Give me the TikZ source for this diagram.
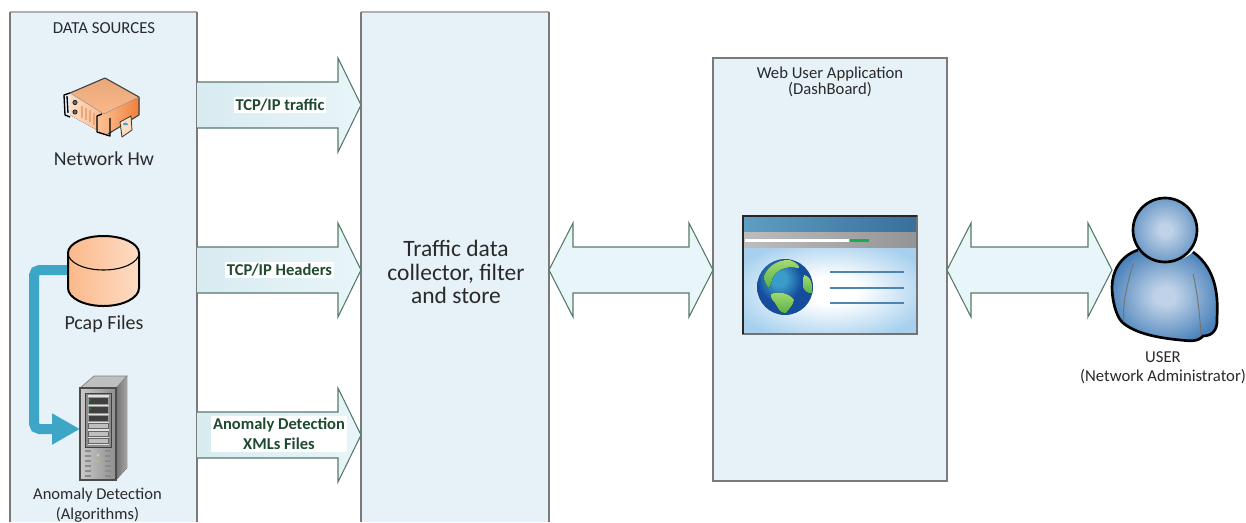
\documentclass[tikz,border=0pt]{standalone}
\usepackage{fontspec}
\setmainfont{Carlito}
\usetikzlibrary{arrows.meta,calc}
\definecolor{panelfill}{HTML}{E6F2F8}
\definecolor{panelline}{HTML}{7A7A7A}
\definecolor{arrline}{HTML}{557A6A}
\definecolor{arrL}{HTML}{D8EBF1}
\definecolor{arrR}{HTML}{E8F5F9}
\definecolor{labelgreen}{HTML}{1E4A30}
\definecolor{txt}{HTML}{2A2A2A}
\definecolor{teal}{HTML}{3DA6C6}
\definecolor{orA}{HTML}{FBB98A}
\definecolor{orB}{HTML}{FDDCC4}
\definecolor{orC}{HTML}{F07F3A}
\definecolor{orD}{HTML}{E8A77A}
\definecolor{titleA}{HTML}{5F9DC4}
\definecolor{titleB}{HTML}{386F9B}
\definecolor{barA}{HTML}{BDBDBD}
\definecolor{barB}{HTML}{949494}
\definecolor{sky}{HTML}{A6D0EE}
\definecolor{webline}{HTML}{4F84AE}
\definecolor{seaA}{HTML}{3A9CC8}
\definecolor{seaB}{HTML}{154C9C}
\definecolor{landA}{HTML}{A5DC72}
\definecolor{landB}{HTML}{56B04A}
\definecolor{userA}{HTML}{BFD2E8}
\definecolor{userB}{HTML}{4A82BA}
\definecolor{srvA}{HTML}{C9C9C9}
\definecolor{srvB}{HTML}{8E8E8E}
\definecolor{okgreen}{HTML}{12B04C}
\pgfdeclareradialshading{softuser}{\pgfpoint{0bp}{0bp}}{color(0bp)=(userA); color(5bp)=(userA); color(27bp)=(userB); color(100bp)=(userB)}
\pgfdeclareradialshading{softhead}{\pgfpoint{0bp}{0bp}}{color(0bp)=(userA); color(5bp)=(userA); color(27bp)=(userB!85); color(100bp)=(userB!85)}
\pgfdeclareradialshading{softsky}{\pgfpoint{0bp}{0bp}}{color(0bp)=(white); color(8bp)=(white); color(30bp)=(sky); color(100bp)=(sky)}
\pgfdeclareradialshading{softsea}{\pgfpoint{-6bp}{8bp}}{color(0bp)=(seaA); color(7bp)=(seaA); color(20bp)=(seaB); color(100bp)=(seaB)}
\tikzset{
  panel/.style={fill=panelfill,inner sep=0pt,outer sep=0pt},
  paneledge/.style={draw=panelline,line width=1.1pt},
  paneltop/.style={draw=panelline!60,line width=.8pt},
  flow/.style={draw=arrline,line width=.8pt,left color=arrL,right color=arrR},
  both/.style={draw=arrline,line width=.8pt,fill=arrR},
  flowlabel/.style={fill=white,inner sep=1.5pt,text=labelgreen,font=\fontsize{12.4pt}{15pt}\selectfont\bfseries,align=center},
  caption/.style={text=txt,align=center,inner sep=0pt},
  anchorbox/.style={inner sep=0pt,outer sep=0pt},
  ink/.style={draw=black,line width=1.5pt,line join=round},
  personink/.style={draw=black,line width=2pt,line join=round},
  webrule/.style={draw=webline,line width=1.5pt},
  land/.style={top color=landA,bottom color=landB},
  drive/.style={fill=black!75,draw=black!40,line width=.3pt},
  bay/.style={fill=black!25,draw=black!60,line width=.4pt},
  vent/.style={draw=black!45,line width=.8pt},
  fold/.style={draw=black!55,line width=.7pt},
  pipe/.style={draw=teal,line width=7.5pt,rounded corners=4pt},
}
\newcommand{\flowarrow}[2]{%
  \draw[flow] ($(#1)+(0,-23)$) -- ($(#2)+(-23,-23)$) -- ($(#2)+(-23,-47)$) -- (#2)
    -- ($(#2)+(-23,47)$) -- ($(#2)+(-23,23)$) -- ($(#1)+(0,23)$);}
\newcommand{\twoway}[2]{%
  \draw[both] (#1) -- ($(#1)+(24,-47)$) -- ($(#1)+(24,-23)$) -- ($(#2)+(-24,-23)$) -- ($(#2)+(-24,-47)$) -- (#2)
    -- ($(#2)+(-24,47)$) -- ($(#2)+(-24,23)$) -- ($(#1)+(24,23)$) -- ($(#1)+(24,47)$) -- cycle;}
\begin{document}
\begin{tikzpicture}[x=0.75pt,y=-0.75pt]
\useasboundingbox (0,0) rectangle (1246,522);
\fill[white] (0,0) rectangle (1246,522);

% panels
\node[panel,minimum width=140.25pt,minimum height=382.5pt] (src) at (103.5,267) {};
\node[panel,minimum width=141pt,minimum height=382.5pt] (col) at (455,267) {};
\node[panel,draw=panelline,line width=1.1pt,minimum width=175.5pt,minimum height=317.25pt] (web) at (830,269.5) {};
\draw[paneltop] (src.north west) -- (src.north east);
\draw[paneltop] (col.north west) -- (col.north east);
\draw[paneledge] (src.south west) -- (src.north west);
\draw[paneledge] (src.south east) -- (src.north east);
\draw[paneledge] (col.south west) -- (col.north west);
\draw[paneledge] (col.south east) -- (col.north east);

% block arrows
\coordinate (a1s) at (src.east|-0,105); \coordinate (a1e) at (col.west|-0,105);
\coordinate (a2s) at (src.east|-0,270); \coordinate (a2e) at (col.west|-0,270);
\coordinate (a3s) at (src.east|-0,435); \coordinate (a3e) at (col.west|-0,435);
\flowarrow{a1s}{a1e}
\flowarrow{a2s}{a2e}
\flowarrow{a3s}{a3e}
\coordinate (b1s) at (col.east|-0,270); \coordinate (b1e) at (web.west|-0,270);
\coordinate (b2s) at (web.east|-0,270); \coordinate (b2e) at (1112,270);
\twoway{b1s}{b1e}
\twoway{b2s}{b2e}

\node[flowlabel] (l1) at (280,105) {TCP/IP traffic};
\node[flowlabel] (l2) at (279.5,270) {TCP/IP Headers};
\node[flowlabel] (l3) at (279,434) {Anomaly Detection\\XMLs Files};

% captions
\node[caption,font=\fontsize{12.6pt}{15pt}\selectfont] (tsrc) at (104,28) {DATA SOURCES};
\node[caption,font=\fontsize{14.8pt}{17pt}\selectfont] (thw) at (104,159) {Network Hw};
\node[caption,font=\fontsize{15pt}{17pt}\selectfont] (tpcap) at (104,324) {Pcap Files};
\node[caption,font=\fontsize{12.4pt}{15pt}\selectfont] (tano) at (97.5,505) {Anomaly Detection\\(Algorithms)};
\node[caption,font=\fontsize{17.6pt}{17.7pt}\selectfont] (tcol) at (456,272) {Traffic data\\collector, filter\\and store};
\node[caption,font=\fontsize{12.5pt}{12pt}\selectfont] (tweb) at (830,82) {Web User Application\\(DashBoard)};
\node[caption,font=\fontsize{12.5pt}{14.5pt}\selectfont] (tuser) at (1163,367.5) {USER\\(Network Administrator)};

% anchors for the two icons that the teal connector joins
\node[anchorbox,minimum width=54pt,minimum height=52.5pt] (pcap) at (104,271) {};
\node[anchorbox,minimum width=27pt,minimum height=69pt] (srv) at (98,434) {};
\coordinate (bendtop) at (34,270);
\coordinate (bendbot) at (34,429);
\draw[pipe,-{Triangle[length=21pt,width=22pt]}] (pcap.west|-bendtop) -- (bendtop) -- (bendbot) -- (srv.west|-bendbot);

% network hardware
\begin{scope}[line join=round]
  \fill[top color=orD,bottom color=orA] (105,78) -- (139,97) -- (104,114) -- (70,93) -- cycle;
  \fill[left color=orB,right color=orA] (70,93) -- (104,114) -- (104,134) -- (70,115) -- cycle;
  \fill[left color=orA,right color=orC] (104,114) -- (139,97) -- (139,115) -- (108,134) -- (104,134) -- cycle;
  \draw[draw=black!75,line width=.8pt] (70,93) -- (105,78) -- (139,97) -- (139,115) -- (108,134);
  \draw[draw=black!35,line width=.4pt] (70,93) -- (104,114) -- (139,97);
  \foreach \xx/\yy in {82/106,86/108,90/110,94/113}{\draw[draw=orD,line width=.8pt] (\xx,\yy) -- (\xx,\yy+12);}
  \fill[black!60,draw=black] (75,102.5) circle[radius=2.2] (75,112) circle[radius=2.2];
  \draw[black,line width=1pt] (70,93) -- (64,95) -- (65,115) -- (70,117);
  \draw[black,line width=1pt] (67,96) -- (68,113);
  \draw[black,line width=1pt] (102,114) -- (97,116) -- (97,132) -- (110,136) -- (110,118) ;
  \draw[black!80,fill=orB,line width=.6pt] (120,122) -- (131,116) -- (132,130) -- (122,137) -- cycle;
  \fill[teal] (123,125) arc[start angle=180,end angle=360,radius=2.5] -- cycle;
\end{scope}

% pcap cylinder
\path[left color=orA,right color=orB] (68,253) arc[start angle=180,end angle=360,x radius=35.5,y radius=17]
  -- (139,288) arc[start angle=0,end angle=180,x radius=35.5,y radius=18] -- cycle;
\draw[ink] (68,253) arc[start angle=180,end angle=360,x radius=35.5,y radius=17]
  -- (139,288) arc[start angle=0,end angle=180,x radius=35.5,y radius=18] -- cycle;
\draw[draw=black,line width=.8pt] (68,253) arc[start angle=180,end angle=0,x radius=35.5,y radius=17];

% server
\fill[left color=black!55,right color=black!35] (116,388) -- (127,376) -- (127,468) -- (116,480) -- cycle;
\filldraw[fill=black!25,draw=black!50,line width=.5pt] (80,388) -- (94,376) -- (127,376) -- (116,388) -- cycle;
\fill[left color=srvA,right color=srvB] (80,388) rectangle (116,480);
\draw[draw=black!70,line width=.8pt] (80,388) rectangle (116,480);
\draw[fill=black!45,draw=black!75,line width=.6pt] (85,393) rectangle (111.5,447);
\fill[black!12] (87.5,395) rectangle (109,445);
\draw[drive] (88,397) rectangle (108,404);
\draw[drive] (88,406) rectangle (108,413);
\draw[drive] (88,415) rectangle (108,421);
\draw[bay] (88,423) rectangle (108,428);
\draw[bay] (88,431) rectangle (108,436);
\draw[bay] (88,438.5) rectangle (108,443.5);
\fill[green!70!black] (90,400) circle[radius=.8] (90,409) circle[radius=.8];
\foreach \yy in {451,456,461,466,471,476}{
  \draw[vent] (85,\yy) -- (91,\yy);
  \draw[vent] (105,\yy) -- (111,\yy);
}
\fill[yellow!80!black] (98,461) circle[radius=.9];
\fill[black!20] (98,455) circle[radius=1.5];

% browser window
\node[anchorbox,minimum width=130.5pt,minimum height=88.5pt] (win) at (830,275) {};
\fill[sky] (win.north west) rectangle (win.south east);
\path[shading=softsky] (743,247) rectangle (917,334);
\fill[left color=titleA,right color=titleB] (win.north west) rectangle (917,232);
\fill[left color=barA,right color=barB] (743,232) rectangle (917,247);
\fill[white] (745,238.8) rectangle (849,241.5);
\fill[okgreen] (850,238.8) rectangle (869,241.5);
\draw[draw=black!55,line width=1.1pt] (win.north west) rectangle (win.south east);
\draw[draw=black!85,line width=.9pt] (743,334) -- (743,216) -- (917,216);
\draw[webrule] (830,272) -- (904,272);
\draw[webrule] (830,288) -- (904,288);
\draw[webrule] (830,303) -- (904,303);
% globe
\path[shading=softsea] (785,287) circle[radius=28];
\fill[land] (764,276) .. controls (768,265) and (780,259) .. (790,260) .. controls (795,262) and (800,265) .. (799,268)
  .. controls (794,268) and (790,266) .. (786,268) .. controls (780,269) and (776,272) .. (773,277)
  .. controls (772,281) and (771,284) .. (769,288) .. controls (766,286) and (764,281) .. (764,276) -- cycle;
\fill[land] (771,294) .. controls (778,291) and (790,293) .. (794,300) .. controls (793,306) and (788,310) .. (786,313) .. controls (780,314) and (778,308) .. (775,303) .. controls (772,300) and (770,297) .. (771,294) -- cycle;
\fill[land] (804,275) .. controls (811,276) and (813,285) .. (812,293) .. controls (808,294) and (804,291) .. (803,287) .. controls (803,283) and (803,280) .. (804,275) -- cycle;

% user
\path[shading=softuser] (1138,250) .. controls (1120,256) and (1112,272) .. (1112,287)
  .. controls (1112,300) and (1116,316) .. (1122,322) .. controls (1135,334) and (1160,338) .. (1180,340)
  .. controls (1190,341) and (1198,342) .. (1203,336) .. controls (1212,336) and (1218,330) .. (1217,318)
  .. controls (1218,300) and (1218,270) .. (1193,252) .. controls (1180,265) and (1150,265) .. (1138,250) -- cycle;
\draw[personink] (1138,250) .. controls (1120,256) and (1112,272) .. (1112,287)
  .. controls (1112,300) and (1116,316) .. (1122,322) .. controls (1135,334) and (1160,338) .. (1180,340)
  .. controls (1190,341) and (1198,342) .. (1203,336) .. controls (1212,336) and (1218,330) .. (1217,318)
  .. controls (1218,300) and (1218,270) .. (1193,252);
\draw[fold] (1133,264) .. controls (1127,285) and (1122,305) .. (1124,322);
\draw[fold] (1193,274) .. controls (1197,290) and (1200,315) .. (1201,336);
\path[shading=softhead] (1165,230) circle[radius=32];
\draw[personink] (1165,230) circle[radius=32];
\end{tikzpicture}
\end{document}
